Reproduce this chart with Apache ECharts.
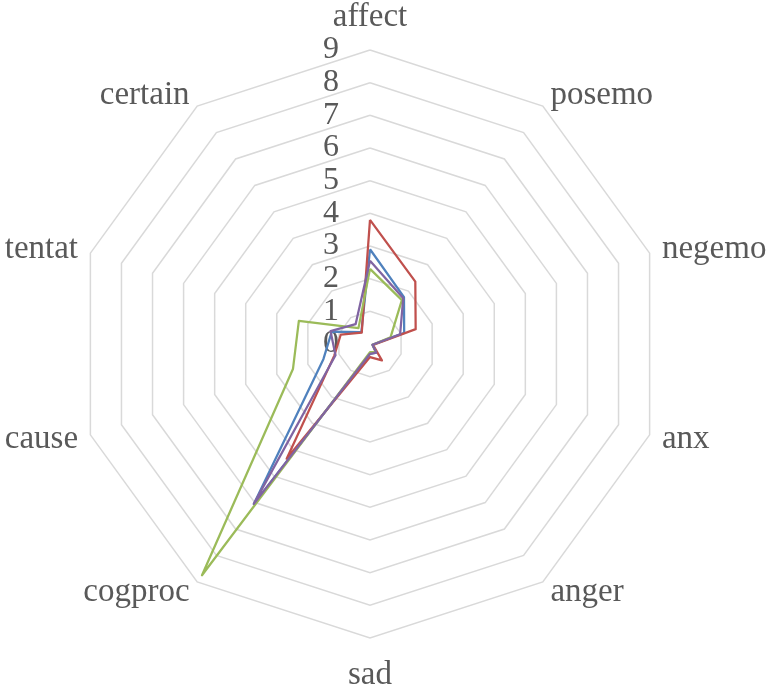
<!DOCTYPE html>
<html>
<head>
<meta charset="utf-8">
<script src="https://cdn.jsdelivr.net/npm/echarts@6/dist/echarts.min.js"></script>
<style>
  html, body { margin: 0; padding: 0; background: #fff; }
  #main { width: 766px; height: 689px; }
</style>
</head>
<body>
<div id="main"></div>
<script>
    // categories, clockwise from the top
    var categories = ['affect', 'posemo', 'negemo', 'anx', 'anger', 'sad', 'cogproc', 'cause', 'tentat', 'certain'];
    var series1 = [2.9, 1.77, 1.1, 0.08, 0.33, 0.3, 6.05, 1.5, 1.23, 0.45];
    var series2 = [3.8, 2.36, 1.47, 0.1, 0.62, 0.4, 4.34, 1.15, 0.94, 0.43];
    var series3 = [2.3, 1.66, 0.66, 0.08, 0.3, 0.25, 8.75, 2.48, 2.29, 0.6];
    var series4 = [2.55, 1.73, 0.97, 0.08, 0.33, 0.3, 6.05, 1.11, 1.27, 0.75];
    var seriesNames = ['Series1', 'Series2', 'Series3', 'Series4'];
    var colors = ['#4F81BD', '#C0504D', '#9BBB59', '#8064A2'];
    var axisMax = 9;

    // echarts radar runs counter-clockwise, so reverse everything after the first one
    var order = [0];
    for (var i = categories.length - 1; i > 0; i--) {
        order.push(i);
    }
    function reorder(arr) {
        return order.map(function (k) { return arr[k]; });
    }

    var indicators = reorder(categories).map(function (name, i) {
        var ind = {name: name, min: 0, max: axisMax};
        if (i === 0) {
            // only the top axis carries the 0..9 labels
            ind.axisLabel = {
                show: true,
                showMinLabel: true,
                showMaxLabel: true,
                hideOverlap: false,
                margin: 31,
                color: '#595959',
                fontFamily: 'Liberation Serif',
                fontSize: 32
            };
        }
        return ind;
    });

    var myChart = echarts.init(document.getElementById('main'));
    var option = {
        backgroundColor: '#fff',
        animation: false,
        radar: {
            center: [370, 344],
            radius: 294,
            splitNumber: 9,
            shape: 'polygon',
            indicator: indicators,
            nameGap: 13,
            axisName: {
                color: '#595959',
                fontFamily: 'Liberation Serif',
                fontSize: 33,
                padding: [8, 0, 0, 0]
            },
            axisLine: {show: false},
            axisTick: {show: false},
            axisLabel: {show: false},
            splitArea: {show: false},
            splitLine: {
                lineStyle: {color: '#D9D9D9', width: 1.5}
            }
        },
        series: [{
            type: 'radar',
            symbol: 'none',
            data: [series1, series2, series3, series4].map(function (vals, i) {
                return {
                    name: seriesNames[i],
                    value: reorder(vals),
                    lineStyle: {color: colors[i], width: 2.25},
                    itemStyle: {color: colors[i]}
                };
            })
        }]
    };
    myChart.setOption(option);
</script>
</body>
</html>
